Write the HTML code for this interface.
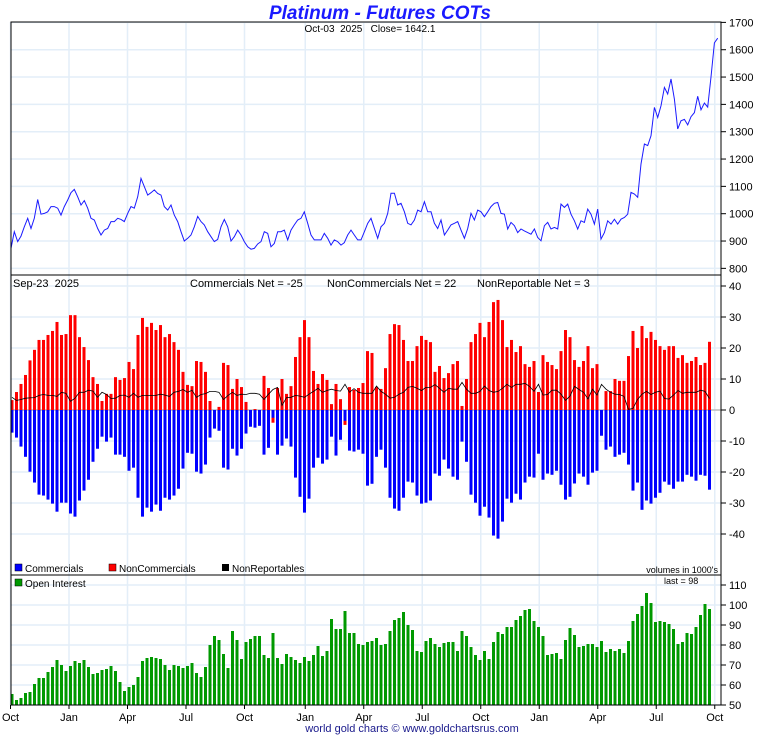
<!DOCTYPE html>
<html><head><meta charset="utf-8"><style>
body{margin:0;background:#fff;}
svg text{font-family:"Liberation Sans",sans-serif;white-space:pre;}
</style></head><body>
<svg id="chart" xmlns="http://www.w3.org/2000/svg" width="760" height="735" viewBox="0 0 760 735" xml:space="preserve">
<rect x="0" y="0" width="760" height="735" fill="#fff"/>
<text x="380" y="19" text-anchor="middle" font-size="19" font-weight="bold" font-style="italic" fill="#1a1aff">Platinum - Futures COTs</text>
<g id="grid"></g>
<g id="marks"></g>
<g id="axes"></g>
<text x="370" y="32" text-anchor="middle" font-size="10" fill="#000">Oct-03  2025   Close= 1642.1</text>
<text x="13" y="287" font-size="11" fill="#000">Sep-23  2025</text>
<text x="190" y="287" font-size="11" fill="#000">Commercials Net = -25</text>
<text x="327" y="287" font-size="11" fill="#000">NonCommercials Net = 22</text>
<text x="477" y="287" font-size="11" fill="#000">NonReportable Net = 3</text>
<g>
<rect x="15" y="564" width="7" height="7" fill="#0000ff" stroke="#000" stroke-width="0.5"/>
<text x="25" y="572" font-size="10">Commercials</text>
<rect x="109" y="564" width="7" height="7" fill="#ff0000" stroke="#000" stroke-width="0.5"/>
<text x="119" y="572" font-size="10">NonCommercials</text>
<rect x="222" y="564" width="7" height="7" fill="#000"/>
<text x="232" y="572" font-size="10">NonReportables</text>
</g>
<text x="718" y="573" text-anchor="end" font-size="9">volumes in 1000's</text>
<rect x="15" y="579" width="7" height="7" fill="#009900" stroke="#000" stroke-width="0.5"/>
<text x="25" y="587" font-size="10">Open Interest</text>
<text x="664" y="584" font-size="9">last = 98</text>
<text x="412" y="732" text-anchor="middle" font-size="11" fill="#1a1a8c">world gold charts © www.goldchartsrus.com</text>
</svg>
<script>
const monthLabels=["Oct","Jan","Apr","Jul","Oct","Jan","Apr","Jul","Oct","Jan","Apr","Jul","Oct"];
const monthWeeks=[0,13,26,39,52,65.5,78.5,91.5,104.5,117.5,130.5,143.5,156.5];
const priceTicks=[800,900,1000,1100,1200,1300,1400,1500,1600,1700];
const cotTicks=[-40,-30,-20,-10,0,10,20,30,40];
const oiTicks=[50,60,70,80,90,100,110];
const commercials=[-7.3,-8.9,-11.8,-15.1,-19.9,-23.4,-27.3,-27.6,-28.9,-30.2,-32.8,-29.9,-29.9,-33.4,-34.4,-29.2,-26,-22.5,-16.7,-12.5,-8.6,-10.2,-8.9,-14.4,-14.4,-15.1,-19.6,-18.6,-28.3,-34.4,-31.5,-32.8,-30.5,-32.5,-28.3,-28.9,-27.6,-25.4,-18.9,-13.8,-14.1,-19.9,-20.5,-17.6,-8.9,-6,-6.7,-18.6,-19.2,-12.5,-14.7,-12.5,-7.6,
-5.4,-5.7,-5.1,-14.4,-12.2,-2.5,-14.4,-11.5,-9.2,-11.8,-21.8,-28,-33.1,-28.6,-18.6,-15.4,-17.3,-16,-8.6,-14.7,-9.6,-3.5,-13.1,-13.4,-12.8,-14.1,-24.4,-23.8,-15.1,-12.8,-18.6,-28.3,-31.8,-32.5,-28.3,-23.1,-23.4,-27.6,-30.2,-29.9,-29.2,-20.5,-21.2,-16,-18.9,-21.5,-22.5,-10.2,-16.7,-27.3,-29.9,-34.1,-31.2,-34.7,-40.5,
-41.5,-36,-28.6,-29.9,-27,-28.9,-23.4,-21.5,-21.8,-14.1,-22.5,-20.5,-20.9,-19.6,-24.1,-28.9,-28,-23.7,-20.5,-21.5,-24.1,-20.2,-19.6,-8.3,-12.8,-11.8,-15.1,-14.4,-13.8,-17.6,-26,-23.4,-32.2,-29.2,-30.2,-28.3,-26.7,-23.1,-24.1,-25.4,-23.1,-23.1,-20.9,-21.5,-22.8,-20.9,-21.2,-25.7];
const nonCommercials=[3.2,5.8,8.4,11.3,16,19.4,22.6,22.6,24.2,25.5,28.4,24.2,24.5,30.6,30.6,23.5,20.3,16.1,10.6,8.4,2.9,5.2,5.2,10.6,9.7,10.3,15.5,13.2,24.2,29.7,26.8,28.1,25.8,27.4,23.5,24.5,21.9,19.4,12.3,8.1,7.7,15.8,15.5,12.3,2.9,0,1,15.2,14.5,6.8,10,7.4,2.6,
0,0.3,0,11,7.1,-4.1,7.1,10,5.2,7.7,17.1,23.5,29,23.5,12.6,8.4,11.6,9.7,1.9,8.4,3.5,-4.8,7.4,6.5,7.1,8.7,19,18.4,7.4,6.8,13.5,24.5,27.7,27.4,22.6,15.8,15.8,20.6,23.9,22.6,21.9,12.3,14.2,10.3,11.9,14.8,15.8,1.3,10,21.9,24.5,28.1,23.5,28.4,34.8,
35.5,29,20.3,22.6,18.7,20.6,14.8,13.9,15.8,5.8,17.7,15.5,14.5,13.2,19,25.8,23.5,16.1,13.9,15.8,20.6,13.5,14.8,0,6.1,6.1,10,9.4,9.4,17.4,25.5,20,27.1,23.2,25.2,22.6,20.6,19.4,20.6,20.6,16.8,17.7,15.2,15.8,17.1,14.5,15.2,22];
const nonReportables=[4.1,3.1,3.4,3.8,3.9,4,4.7,5,4.7,4.7,4.4,5.7,5.4,2.8,3.8,5.7,5.7,6.4,6.1,4.1,5.7,5,3.7,3.8,4.7,4.8,4.1,5.4,4.1,4.7,4.7,4.7,4.7,5.1,4.8,4.4,5.7,6,6.6,5.7,6.4,4.1,5,5.3,6,6,5.7,3.4,4.7,5.7,4.7,5.1,5,
5.4,5.4,5.1,3.4,5.1,6.6,7.3,1.5,4,4.1,4.7,4.5,4.1,5.1,6,7,5.7,6.3,6.7,6.3,6.1,8.3,5.7,6.9,5.7,5.4,5.4,5.4,7.7,6,5.1,3.8,4.1,5.1,5.7,7.3,7.6,7,6.3,7.3,7.3,8.2,7,5.7,7,6.7,6.7,8.9,6.7,5.4,5.4,6,7.7,6.3,5.7,
6,7,8.3,7.3,8.3,8.3,8.6,7.6,6,8.3,4.8,5,6.4,6.4,5.1,3.1,4.5,7.6,6.6,5.7,3.5,6.7,4.8,8.3,6.7,5.7,5.1,5,4.4,0.2,0.5,3.4,5.1,6,5,5.7,6.1,3.7,3.5,4.8,6.3,5.4,5.7,5.7,5.7,6.4,6,3.7];
const openInterest=[55.5,52.5,53.5,56,56.5,60.5,63.5,63.5,66.5,69,72.5,70,67,69.5,72,71,72.5,69,65.5,66,67.5,68,69.5,67,61.5,57,59,60,64,72,73.5,74,73.5,73,70,67.5,70,69.5,68.5,69.5,71,66,64,69,80,84.5,82.5,75.5,68.5,87,82.5,73,81.5,
83,84.5,84.5,75,73.5,86,73.5,70.5,75.5,74,72.5,71,74,72,75,79.5,74.5,77,93,88,88,97,86,86,80.5,80,81.5,82,83.5,80,80.5,87,92.5,93.5,96.5,90,87.5,77,76.5,82,83.5,80.5,79,81,81.5,81.5,77,87,84.5,79,75,72.5,77,73,81.5,
86.5,85.5,89,89,92.5,94.5,97.5,98,92,89,84.5,75,75.5,76,73,82.5,88.5,85,79,79.5,80.5,80.5,79,82,76.5,78,77,78,76,82,92,95.5,99.5,106,101,91.5,92,91.5,90.5,88,80.5,81.5,86,85.5,89,95,100.5,98];
const price=[873,934,898,918,952,983,946,983,1052,998,1001,1007,1026,1026,1020,995,1026,1050,1077,1089,1062,1032,1048,1020,983,977,946,922,940,946,971,971,983,979,971,1001,1026,1020,1062,1129,1099,1068,1077,1087,1074,1068,1026,1013,1032,995,971,934,900,910,922,952,990,971,959,934,916,898,906,952,979,952,900,916,940,922,898,879,
870,873,889,898,934,928,879,891,934,934,940,904,940,959,977,983,1007,965,922,904,904,904,928,910,885,904,898,885,894,922,940,922,904,904,934,965,983,946,910,952,965,1001,1075,1075,1032,1038,1007,965,959,977,1013,1007,1044,1007,1007,965,946,977,922,940,959,965,971,940,910,946,1001,977,1013,1007,989,1007,1026,1038,
1041,1001,998,944,968,956,931,944,937,931,925,944,913,901,956,968,944,950,944,1035,1023,1035,998,974,944,974,968,1017,998,962,1017,907,931,974,962,980,962,980,986,998,1078,1072,1060,1182,1255,1249,1285,1389,1352,1395,1462,1438,1493,1419,1310,1340,1345,1325,1355,1370,1430,1380,1405,1390,1500,1625,1642];

const NS='http://www.w3.org/2000/svg';
const L=11,R=721;
const xW=w=>12+w*4.5;
const xP=i=>11+i*(706.7/(price.length-1));
const yP=v=>213.7-(v-1000)*0.2733;
const yC=v=>410-v*3.1;
const yO=v=>705-(v-50)*2;
function mk(tag,attrs,parent){const e=document.createElementNS(NS,tag);for(const k in attrs)e.setAttribute(k,attrs[k]);parent.appendChild(e);return e;}
const grid=document.getElementById('grid'),marks=document.getElementById('marks'),axes=document.getElementById('axes');
const GC='#e3eef8';
monthWeeks.forEach((w,i)=>{const x=xW(w)-1.5;
 [[22,275],[275,575],[575,705]].forEach(([a,b])=>{const l=mk('line',{x1:x,x2:x,y1:a,y2:b,stroke:GC,'stroke-width':1.5},grid);
 
 });
 const t=mk('text',{x:x,y:721,'text-anchor':'middle','font-size':11},axes);t.textContent=monthLabels[i];
 
 
 const tk=mk('line',{x1:x,x2:x,y1:705,y2:709,stroke:'#000'},axes);
 
 
});
function yAxis(ticks,fy,nm){ticks.forEach(v=>{const y=fy(v);
 const g=mk('line',{x1:L,x2:R,y1:y,y2:y,stroke:v===0&&nm==='cot'?'#bbb':GC,'stroke-width':1.5},grid);
 
 
 const tk=mk('line',{x1:R,x2:R+5,y1:y,y2:y,stroke:'#000'},axes);
 
 
 const t=mk('text',{x:R+8,y:y+4,'font-size':11},axes);t.textContent=v;
 
 });}
yAxis(priceTicks,yP,'price');yAxis(cotTicks,yC,'cot');yAxis(oiTicks,yO,'oi');
[[22,275],[275,575],[575,705]].forEach(([a,b])=>{const r=mk('rect',{x:L,y:a,width:R-L,height:b-a,fill:'none',stroke:'#000','stroke-width':1},axes);
 
 });
const pl=mk('polyline',{points:price.map((v,i)=>xP(i).toFixed(1)+','+yP(v).toFixed(1)).join(' '),fill:'none',stroke:'#1a1aff','stroke-width':1},marks);


nonCommercials.forEach((v,i)=>{const x=xW(i)-1.5,y0=yC(0),y1=yC(v);
 const b=mk('rect',{x:x,y:Math.min(y0,y1),width:3,height:Math.abs(y1-y0),fill:'#ff0000'},marks);
 
 });
commercials.forEach((v,i)=>{const x=xW(i)-1.5,y0=yC(0),y1=yC(v);
 const b=mk('rect',{x:x,y:Math.min(y0,y1),width:3,height:Math.abs(y1-y0),fill:'#0000ff'},marks);
 
 });
const nl=mk('polyline',{points:nonReportables.map((v,i)=>xW(i).toFixed(1)+','+yC(v).toFixed(1)).join(' '),fill:'none',stroke:'#000','stroke-width':0.8},marks);


openInterest.forEach((v,i)=>{const x=xW(i)-1.5;
 const b=mk('rect',{x:x,y:yO(v),width:3,height:705-yO(v),fill:'#009900'},marks);
 
 });
</script>
</body></html>
